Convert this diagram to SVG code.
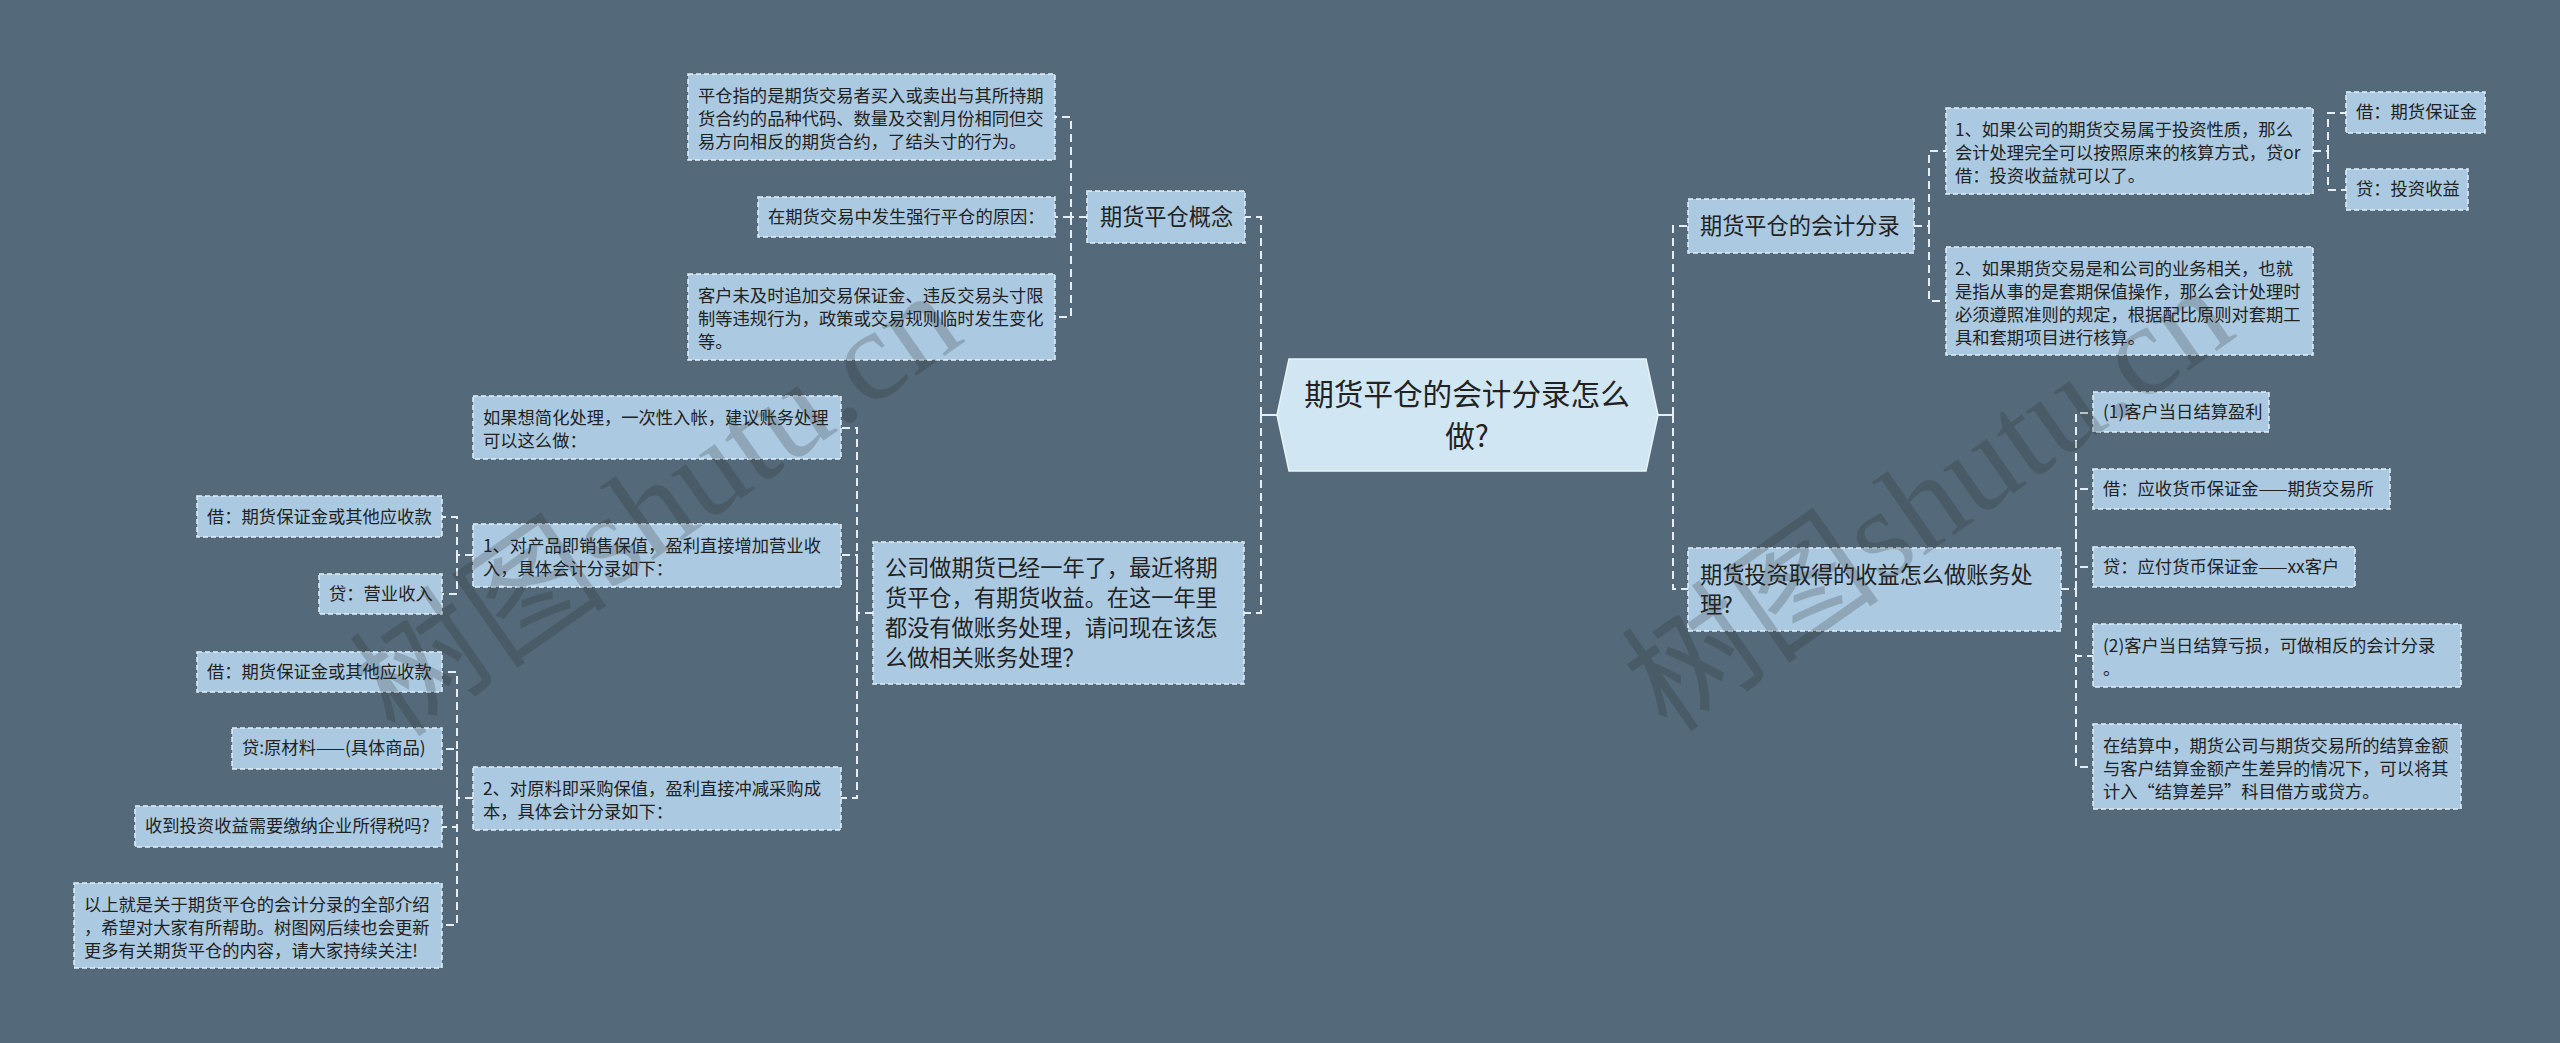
<svg xmlns="http://www.w3.org/2000/svg" width="2560" height="1043" viewBox="0 0 2560 1043">
<style>
.bg{fill:#546a7a}
.box{fill:#abcae1;stroke:#e4f0f8;stroke-width:1.5;stroke-dasharray:5 3}
.root{fill:#d0e6f2;stroke:#e8f3f9;stroke-width:1.5}
.t{font-family:"Noto Sans CJK SC","Noto Sans",sans-serif;fill:#222;font-size:17.3px}
.t1{font-size:22.2px}
.t0{font-size:29.6px}
.c{fill:none;stroke:#e6eef3;stroke-width:2;stroke-dasharray:8 5}
.cs{fill:none;stroke:#e6eef3;stroke-width:2}
.wm{font-family:"Liberation Serif","Noto Sans CJK SC",serif;font-size:130px;fill:#2a2a2a;opacity:0.22}
</style>
<rect class="bg" x="0" y="0" width="2560" height="1043"/>

<g id="connectors">
<path class="cs" d="M1277 415H1261"/>
<path class="c" d="M1261 415V217H1245M1261 415V613H1244"/>
<path class="c" d="M1087 217H1071V117H1055M1071 217H1055M1071 217V317H1055"/>
<path class="c" d="M873 613H857V428H841M857 613V555H841M857 613V798H841"/>
<path class="c" d="M473 555H457V517H442M457 555V594H442"/>
<path class="c" d="M473 798H457V672H442M457 798V749H442M457 798V827H442M457 798V925H442"/>
<path class="cs" d="M1658 415H1673"/>
<path class="c" d="M1673 415V226H1688M1673 415V589H1688"/>
<path class="c" d="M1914 226H1929V151H1946M1929 226V301H1946"/>
<path class="c" d="M2313 151H2328V113H2346M2328 151V190H2346"/>
<path class="c" d="M2061 589H2076V413H2093M2076 589V489H2093M2076 589V567H2093M2076 589V656H2093M2076 589V767H2093"/>
</g>

<g id="root">
<polygon class="root" points="1277,415 1289,359 1646,359 1658,415 1646,471 1289,471"/>
<text class="t t0" text-anchor="middle"><tspan x="1467" y="405">期货平仓的会计分录怎么</tspan><tspan x="1467" y="447">做?</tspan></text>
</g>

<g id="n-gainian">
<rect class="box" x="1087" y="191" width="158" height="52"/>
<text class="t t1" x="1100" y="225">期货平仓概念</text>
</g>
<g id="n-a">
<rect class="box" x="688" y="74" width="367" height="86"/>
<text class="t"><tspan x="698" y="102">平仓指的是期货交易者买入或卖出与其所持期</tspan><tspan x="698" y="125">货合约的品种代码、数量及交割月份相同但交</tspan><tspan x="698" y="148">易方向相反的期货合约，了结头寸的行为。</tspan></text>
</g>
<g id="n-b">
<rect class="box" x="758" y="197" width="297" height="40"/>
<text class="t" x="768" y="223">在期货交易中发生强行平仓的原因：</text>
</g>
<g id="n-c">
<rect class="box" x="688" y="274" width="367" height="86"/>
<text class="t"><tspan x="698" y="302">客户未及时追加交易保证金、违反交易头寸限</tspan><tspan x="698" y="325">制等违规行为，政策或交易规则临时发生变化</tspan><tspan x="698" y="348">等。</tspan></text>
</g>

<g id="n-f">
<rect class="box" x="873" y="542" width="371" height="142"/>
<text class="t t1"><tspan x="885" y="576">公司做期货已经一年了，最近将期</tspan><tspan x="885" y="606">货平仓，有期货收益。在这一年里</tspan><tspan x="885" y="636">都没有做账务处理，请问现在该怎</tspan><tspan x="885" y="666">么做相关账务处理？</tspan></text>
</g>
<g id="n-d">
<rect class="box" x="473" y="396" width="368" height="63"/>
<text class="t"><tspan x="483" y="424">如果想简化处理，一次性入帐，建议账务处理</tspan><tspan x="483" y="447">可以这么做：</tspan></text>
</g>
<g id="n-e">
<rect class="box" x="473" y="524" width="368" height="63"/>
<text class="t"><tspan x="483" y="552">1、对产品即销售保值，盈利直接增加营业收</tspan><tspan x="483" y="575">入，具体会计分录如下：</tspan></text>
</g>
<g id="n-g">
<rect class="box" x="197" y="496" width="245" height="41"/>
<text class="t" x="207" y="523">借：期货保证金或其他应收款</text>
</g>
<g id="n-h">
<rect class="box" x="319" y="574" width="123" height="40"/>
<text class="t" x="329" y="600">贷：营业收入</text>
</g>
<g id="n-k">
<rect class="box" x="473" y="767" width="368" height="63"/>
<text class="t"><tspan x="483" y="795">2、对原料即采购保值，盈利直接冲减采购成</tspan><tspan x="483" y="818">本，具体会计分录如下：</tspan></text>
</g>
<g id="n-i">
<rect class="box" x="197" y="652" width="245" height="40"/>
<text class="t" x="207" y="678">借：期货保证金或其他应收款</text>
</g>
<g id="n-j">
<rect class="box" x="232" y="728" width="210" height="41"/>
<text class="t" x="242" y="754">贷:原材料——(具体商品)</text>
</g>
<g id="n-l">
<rect class="box" x="135" y="806" width="307" height="41"/>
<text class="t" x="145" y="832">收到投资收益需要缴纳企业所得税吗?</text>
</g>
<g id="n-m">
<rect class="box" x="74" y="883" width="368" height="85"/>
<text class="t"><tspan x="84" y="911">以上就是关于期货平仓的会计分录的全部介绍</tspan><tspan x="84" y="934">，希望对大家有所帮助。树图网后续也会更新</tspan><tspan x="84" y="957">更多有关期货平仓的内容，请大家持续关注!</tspan></text>
</g>

<g id="n-n">
<rect class="box" x="1688" y="199" width="226" height="54"/>
<text class="t t1" x="1700" y="234">期货平仓的会计分录</text>
</g>
<g id="n-o">
<rect class="box" x="1946" y="108" width="367" height="86"/>
<text class="t"><tspan x="1955" y="136">1、如果公司的期货交易属于投资性质，那么</tspan><tspan x="1955" y="159">会计处理完全可以按照原来的核算方式，贷or</tspan><tspan x="1955" y="182">借：投资收益就可以了。</tspan></text>
</g>
<g id="n-q">
<rect class="box" x="2346" y="92" width="139" height="41"/>
<text class="t" x="2356" y="118">借：期货保证金</text>
</g>
<g id="n-r">
<rect class="box" x="2346" y="169" width="122" height="41"/>
<text class="t" x="2356" y="195">贷：投资收益</text>
</g>
<g id="n-p">
<rect class="box" x="1946" y="247" width="367" height="108"/>
<text class="t"><tspan x="1955" y="275">2、如果期货交易是和公司的业务相关，也就</tspan><tspan x="1955" y="298">是指从事的是套期保值操作，那么会计处理时</tspan><tspan x="1955" y="321">必须遵照准则的规定，根据配比原则对套期工</tspan><tspan x="1955" y="344">具和套期项目进行核算。</tspan></text>
</g>

<g id="n-s">
<rect class="box" x="1688" y="548" width="373" height="83"/>
<text class="t t1"><tspan x="1700" y="583">期货投资取得的收益怎么做账务处</tspan><tspan x="1700" y="613">理?</tspan></text>
</g>
<g id="n-t">
<rect class="box" x="2093" y="392" width="176" height="40"/>
<text class="t" x="2103" y="418">(1)客户当日结算盈利</text>
</g>
<g id="n-u">
<rect class="box" x="2093" y="469" width="297" height="40"/>
<text class="t" x="2103" y="495">借：应收货币保证金——期货交易所</text>
</g>
<g id="n-v">
<rect class="box" x="2093" y="547" width="262" height="40"/>
<text class="t" x="2103" y="573">贷：应付货币保证金——xx客户</text>
</g>
<g id="n-w">
<rect class="box" x="2093" y="624" width="368" height="63"/>
<text class="t"><tspan x="2103" y="652">(2)客户当日结算亏损，可做相反的会计分录</tspan><tspan x="2103" y="675">。</tspan></text>
</g>
<g id="n-x">
<rect class="box" x="2093" y="724" width="368" height="85"/>
<text class="t"><tspan x="2103" y="752">在结算中，期货公司与期货交易所的结算金额</tspan><tspan x="2103" y="775">与客户结算金额产生差异的情况下，可以将其</tspan><tspan x="2103" y="798">计入“结算差异”科目借方或贷方。</tspan></text>
</g>

<g id="watermark">
<text class="wm" x="396" y="740" transform="rotate(-35 396 740)">树图shutu.cn</text>
<text class="wm" x="1668" y="735" transform="rotate(-35 1668 735)">树图shutu.cn</text>
</g>
</svg>
